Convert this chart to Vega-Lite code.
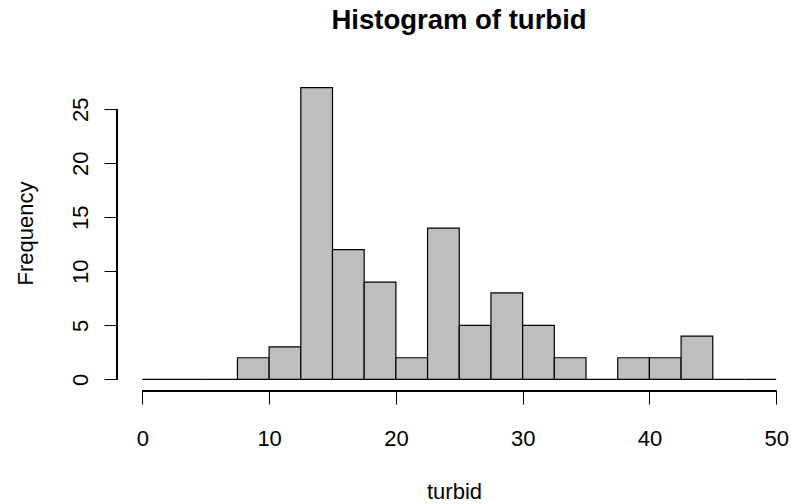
{
  "$schema": "https://vega.github.io/schema/vega-lite/v6.json",
  "width": 674,
  "height": 315,
  "autosize": {"type": "none"},
  "padding": {"left": 117, "top": 76, "right": 0, "bottom": 113},
  "background": "white",
  "title": {
    "text": "Histogram of turbid",
    "fontSize": 27.5,
    "fontWeight": "bold",
    "font": "Liberation Sans",
    "color": "black",
    "anchor": "middle",
    "frame": "group",
    "baseline": "alphabetic",
    "offset": 19.5,
    "dx": 5
  },
  "config": {
    "view": {"stroke": null},
    "axis": {
      "domain": false,
      "grid": false,
      "tickColor": "black",
      "tickSize": 13,
      "tickWidth": 1,
      "labelFont": "Liberation Sans",
      "labelFontSize": 22,
      "labelColor": "black",
      "labelFlush": false,
      "labelOverlap": false,
      "titleFont": "Liberation Sans",
      "titleFontSize": 22,
      "titleFontWeight": "normal",
      "titleColor": "black"
    }
  },
  "data": {
    "values": [
      {"start": 0, "end": 2.5, "count": 0},
      {"start": 2.5, "end": 5, "count": 0},
      {"start": 5, "end": 7.5, "count": 0},
      {"start": 7.5, "end": 10, "count": 2},
      {"start": 10, "end": 12.5, "count": 3},
      {"start": 12.5, "end": 15, "count": 27},
      {"start": 15, "end": 17.5, "count": 12},
      {"start": 17.5, "end": 20, "count": 9},
      {"start": 20, "end": 22.5, "count": 2},
      {"start": 22.5, "end": 25, "count": 14},
      {"start": 25, "end": 27.5, "count": 5},
      {"start": 27.5, "end": 30, "count": 8},
      {"start": 30, "end": 32.5, "count": 5},
      {"start": 32.5, "end": 35, "count": 2},
      {"start": 35, "end": 37.5, "count": 0},
      {"start": 37.5, "end": 40, "count": 2},
      {"start": 40, "end": 42.5, "count": 2},
      {"start": 42.5, "end": 45, "count": 4},
      {"start": 45, "end": 47.5, "count": 0},
      {"start": 47.5, "end": 50, "count": 0}
    ]
  },
  "layer": [
    {
      "mark": {"type": "rect", "fill": "#bebebe", "stroke": "black", "strokeWidth": 1.2},
      "encoding": {
        "x": {
          "field": "start",
          "type": "quantitative",
          "scale": {"domain": [-2, 51.17], "nice": false, "zero": false},
          "axis": {
            "values": [0, 10, 20, 30, 40, 50],
            "labelBaseline": "alphabetic",
            "labelPadding": 41,
            "title": "turbid",
            "titleBaseline": "alphabetic",
            "titleY": 107
          }
        },
        "x2": {"field": "end"},
        "y": {
          "field": "count",
          "type": "quantitative",
          "scale": {"domain": [-1.08, 28.08], "nice": false, "zero": false},
          "axis": {
            "values": [0, 5, 10, 15, 20, 25],
            "labelAngle": 270,
            "labelAlign": "center",
            "labelBaseline": "alphabetic",
            "labelPadding": 17,
            "title": "Frequency",
            "titleAngle": 270,
            "titleAlign": "center",
            "titleBaseline": "alphabetic",
            "titleX": -85,
            "titleY": 157
          }
        },
        "y2": {"datum": 0}
      }
    },
    {
      "mark": {"type": "rule", "color": "black", "strokeWidth": 1},
      "encoding": {
        "x": {"datum": 0, "type": "quantitative"},
        "x2": {"datum": 50},
        "y": {"datum": -1.08, "type": "quantitative"}
      }
    },
    {
      "mark": {"type": "rule", "color": "black", "strokeWidth": 1},
      "encoding": {
        "x": {"datum": -2, "type": "quantitative"},
        "y": {"datum": 0, "type": "quantitative"},
        "y2": {"datum": 25}
      }
    }
  ]
}
